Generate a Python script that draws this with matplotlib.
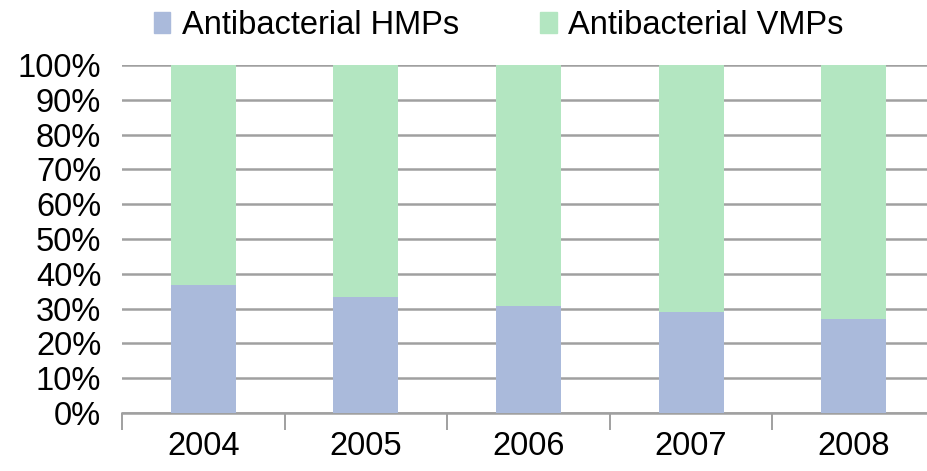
import matplotlib
matplotlib.use("Agg")
import matplotlib.pyplot as plt
from matplotlib.patches import Patch
from matplotlib.ticker import FixedLocator, PercentFormatter

years = ["2004", "2005", "2006", "2007", "2008"]
hmp_pct = [36.8, 33.4, 30.8, 29.0, 27.1]
vmp_pct = [100 - v for v in hmp_pct]
series_names = ["Antibacterial HMPs", "Antibacterial VMPs"]
c_hmp = "#AABADB"
c_vmp = "#B3E6C1"

plt.rcParams['font.family'] = ['Liberation Sans', 'DejaVu Sans']

fig = plt.figure(figsize=(9.27, 4.71), dpi=100)
ax = fig.add_axes([122/927, 58/471, 813/927, 348/471])

x = list(range(len(years)))
ax.bar(x, hmp_pct, width=0.4, color=c_hmp, zorder=3)
ax.bar(x, vmp_pct, width=0.4, bottom=hmp_pct, color=c_vmp, zorder=3)

ax.set_xlim(-0.5, len(years) - 0.5)
ax.set_ylim(0, 100)
ax.set_yticks(range(0, 101, 10))
ax.yaxis.set_major_formatter(PercentFormatter(decimals=0))
ax.grid(axis='y', color='#A0A0A0', linewidth=1.8, zorder=0)

ax.set_xticks(x)
ax.set_xticklabels(years)
ax.xaxis.set_minor_locator(FixedLocator([i - 0.5 for i in range(len(years) + 1)]))
ax.tick_params(axis='x', which='major', length=0, pad=13, labelsize=23.5)
ax.tick_params(axis='x', which='minor', length=12, width=1.2, color='#909090')
ax.tick_params(axis='y', length=0, pad=15, labelsize=23.5)

for s in ['top', 'right', 'left']:
    ax.spines[s].set_visible(False)
ax.spines['bottom'].set_color('#A0A0A0')
ax.spines['bottom'].set_linewidth(1.8)

handles = [Patch(color=c_hmp), Patch(color=c_vmp)]
fig.legend(handles, series_names, loc='center', bbox_to_anchor=(0.538, 0.945),
           ncol=2, frameon=False, fontsize=23.5, handlelength=0.5, handleheight=0.62,
           handletextpad=0.35, columnspacing=2.5, borderaxespad=0)

fig.savefig("out.png", dpi=100)
